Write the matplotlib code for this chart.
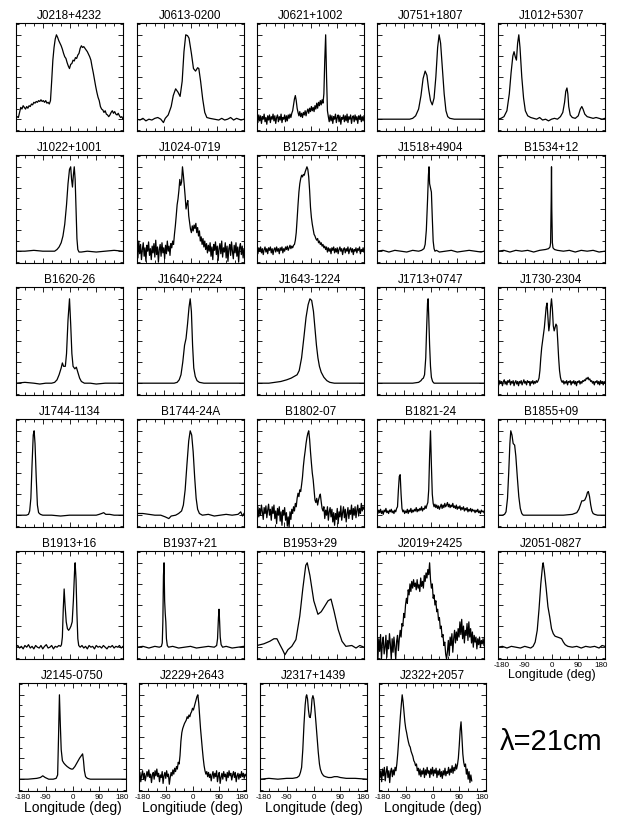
import numpy as np
import matplotlib
matplotlib.use("Agg")
import matplotlib.pyplot as plt
import matplotlib.transforms as mtransforms
from matplotlib.ticker import MultipleLocator

plt.rcParams['font.family'] = ['Liberation Sans', 'DejaVu Sans']
plt.rcParams['axes.unicode_minus'] = False

# ---------------- data (normalised intensity vs. longitude in deg) ----------------
# Panels given as explicit (longitude, intensity) pairs
J0613_lon = [-180,-170,-160,-150,-140,-130,-120,-110,-100,-91,-85,-75,-65,-58,-50,-42,-35,-28,-22,-16,-10,-5,3,10,17,24,28,34,41,48,55,65,80,95,105,115,125,135,145,155,170,180]
J0613_val = [0.0,-0.01,0.01,-0.02,0.0,-0.01,0.01,0.02,0.0,-0.04,0.01,0.05,0.15,0.28,0.36,0.32,0.27,0.45,0.8,1.0,0.99,0.96,0.78,0.6,0.57,0.61,0.6,0.45,0.24,0.08,0.02,0.01,0.0,-0.01,0.01,-0.01,0.0,0.02,-0.01,0.01,-0.01,0.0]

J0751_lon = [-180,-150,-120,-90,-70,-60,-50,-40,-32,-25,-18,-12,-6,0,6,12,18,24,29,34,40,46,52,58,65,80,110,140,180]
J0751_val = [0.0,0.0,0.0,0.0,0.0,0.01,0.04,0.12,0.28,0.48,0.57,0.52,0.35,0.22,0.17,0.25,0.5,0.85,1.0,0.9,0.6,0.3,0.1,0.03,0.01,0.0,0.0,0.0,0.0]

J1012_lon = [-180,-170,-160,-150,-142,-136,-130,-126,-122,-118,-114,-110,-106,-100,-94,-88,-80,-70,-60,-50,-40,-30,-20,-10,0,10,20,30,38,44,48,52,55,58,63,70,80,90,97,102,106,112,120,130,140,150,160,170,180]
J1012_val = [0.0,0.01,0.03,0.1,0.3,0.55,0.75,0.8,0.74,0.7,0.9,1.0,0.85,0.5,0.25,0.1,0.04,0.02,0.01,0.0,0.02,-0.01,0.0,-0.02,0.0,0.01,0.0,0.03,0.08,0.2,0.33,0.37,0.3,0.15,0.05,0.02,0.01,0.04,0.12,0.15,0.12,0.06,0.03,0.02,0.01,0.02,0.01,0.0,0.01]

J1022_lon = [-180,-150,-120,-90,-60,-50,-42,-35,-28,-22,-16,-10,-5,0,4,7,10,13,16,19,22,25,28,32,40,60,90,120,150,180]
J1022_val = [0.0,0.0,0.01,0.0,0.0,0.0,0.02,0.05,0.1,0.18,0.32,0.55,0.8,0.97,1.0,0.85,0.76,0.9,1.0,0.85,0.5,0.15,0.02,-0.01,-0.01,0.0,-0.01,0.0,0.01,0.0]

J1518_lon = [-180,-160,-140,-120,-100,-80,-60,-40,-30,-22,-18,-14,-10,-7,-5,-3,0,3,6,9,12,15,20,30,50,70,90,110,130,150,170,180]
J1518_val = [0.0,0.01,-0.01,0.01,0.0,-0.01,0.01,0.0,0.01,0.03,0.08,0.25,0.6,0.9,1.0,0.8,0.75,0.7,0.4,0.12,0.03,0.0,0.01,-0.01,0.0,0.01,-0.01,0.0,0.01,0.0,-0.01,0.0]

B1534_lon = [-180,-160,-140,-120,-100,-80,-60,-40,-20,-10,-5,-3,-1,0,1,3,5,10,20,40,60,80,100,120,140,160,180]
B1534_val = [0.0,0.01,-0.01,0.01,0.0,0.01,-0.01,0.01,0.02,0.03,0.05,0.1,0.6,1.0,0.5,0.1,0.04,0.02,0.01,0.0,0.01,-0.01,0.01,0.0,0.01,-0.01,0.0]

B1620_lon = [-180,-150,-120,-100,-80,-60,-50,-42,-35,-28,-24,-20,-14,-10,-5,0,4,8,12,18,23,28,34,40,50,70,90,120,150,180]
B1620_val = [0.0,0.01,0.0,-0.01,0.0,0.0,0.01,0.04,0.1,0.18,0.24,0.2,0.2,0.35,0.75,1.0,0.7,0.35,0.2,0.17,0.19,0.13,0.06,0.02,0.0,0.0,-0.01,0.0,0.0,0.0]

J1640_lon = [-180,-120,-80,-55,-45,-38,-32,-26,-20,-15,-10,-5,-1,3,7,11,16,22,30,45,80,120,180]
J1640_val = [0.0,0.0,0.0,0.0,0.01,0.04,0.1,0.25,0.45,0.53,0.7,0.9,1.0,0.85,0.45,0.18,0.08,0.03,0.01,0.0,0.0,0.0,0.0]

J1643_lon = [-180,-140,-120,-100,-80,-65,-55,-45,-38,-30,-22,-15,-8,-2,4,10,15,20,25,30,36,45,55,65,80,120,180]
J1643_val = [0.0,0.0,0.01,0.02,0.04,0.06,0.08,0.1,0.15,0.3,0.55,0.78,0.93,1.0,0.98,0.85,0.65,0.45,0.3,0.2,0.13,0.07,0.03,0.01,0.0,0.0,0.0]

J1713_lon = [-180,-120,-60,-40,-32,-28,-24,-20,-16,-13,-10,-8,-6,-3,0,3,7,12,20,50,100,180]
J1713_val = [0.0,0.0,0.0,0.01,0.03,0.05,0.06,0.1,0.3,0.65,0.95,1.0,0.8,0.45,0.2,0.07,0.02,0.0,0.0,0.0,0.0,0.0]

J1744_lon = [-180,-160,-145,-138,-134,-130,-126,-122,-119,-116,-112,-108,-104,-98,-90,-60,-30,0,30,60,90,100,108,115,122,135,150,180]
J1744_val = [0.0,0.0,0.0,0.01,0.05,0.2,0.6,0.95,1.0,0.85,0.45,0.12,0.03,0.01,0.0,0.0,-0.01,0.0,0.0,0.0,0.0,0.01,0.02,0.03,0.01,0.01,0.0,0.0]

B1744_lon = [-180,-160,-140,-120,-100,-85,-73,-65,-50,-40,-30,-24,-18,-12,-6,-1,4,9,14,19,24,30,40,60,80,100,120,140,160,169,175,180]
B1744_val = [0.02,0.02,0.01,0.0,0.0,-0.02,-0.04,-0.01,0.0,0.02,0.05,0.12,0.3,0.6,0.88,1.0,0.95,0.75,0.45,0.2,0.07,0.02,0.0,0.01,-0.01,0.0,0.01,0.0,0.01,0.04,-0.01,0.02]

B1855_lon = [-180,-165,-158,-153,-148,-144,-140,-137,-133,-129,-124,-120,-115,-110,-105,-100,-95,-80,-40,0,40,70,85,92,97,102,107,112,117,121,124,128,132,136,140,145,155,170,180]
B1855_val = [0.0,0.0,0.01,0.04,0.2,0.5,0.85,1.0,0.95,0.85,0.83,0.7,0.45,0.22,0.08,0.02,0.0,0.0,0.0,0.0,0.0,0.01,0.03,0.07,0.12,0.17,0.17,0.18,0.22,0.27,0.28,0.22,0.12,0.05,0.02,0.01,0.0,0.0,0.0]

B1913_lon = [-180,-174,-168,-162,-156,-150,-144,-138,-132,-126,-120,-114,-108,-102,-96,-90,-84,-78,-72,-66,-60,-54,-48,-42,-36,-30,-27,-24,-21,-18,-15,-11,-7,-3,1,5,9,13,17,19,22,25,28,31,36,42,48,54,60,66,72,78,84,90,96,102,108,114,120,126,132,138,144,150,156,162,168,174,180]
B1913_val = [0.0,0.02,-0.01,0.01,-0.02,0.02,0.0,0.03,-0.01,0.01,-0.02,0.02,0.0,-0.01,0.02,-0.02,0.01,0.03,-0.01,0.0,0.02,-0.02,0.01,0.0,0.02,0.01,0.03,0.12,0.45,0.69,0.5,0.3,0.22,0.2,0.22,0.25,0.3,0.55,0.9,1.0,0.8,0.4,0.1,0.02,0.0,0.02,-0.01,0.01,-0.02,0.02,0.0,0.01,-0.02,0.02,0.0,0.01,-0.01,0.02,0.0,-0.02,0.01,0.0,0.02,-0.01,0.01,0.0,0.02,-0.01,0.01]

B1937_lon = [-180,-160,-140,-120,-105,-98,-95,-93,-91,-89,-87,-85,-83,-81,-78,-74,-60,-40,-20,0,20,40,60,80,88,91,94,96,98,100,103,108,120,140,160,180]
B1937_val = [0.0,0.01,-0.01,0.01,0.0,0.01,0.05,0.3,0.85,1.0,0.55,0.4,0.3,0.1,0.02,0.0,0.01,-0.01,0.0,0.01,-0.01,0.0,0.01,0.0,0.02,0.1,0.35,0.45,0.3,0.12,0.03,0.0,0.01,-0.01,0.0,0.01]

B1953_lon = [-180,-157,-137,-123,-113,-103,-94,-86,-76,-63,-49,-36,-26,-16,-11,-2,11,25,36,45,59,69,79,93,106,119,139,153,166,180]
B1953_val = [0.02,0.04,0.07,0.1,0.1,0.03,-0.03,-0.09,-0.03,0.01,0.09,0.37,0.69,0.97,1.0,0.85,0.55,0.39,0.42,0.47,0.55,0.57,0.43,0.21,0.07,0.01,0.02,-0.01,0.02,0.0]

J2051_lon = [-180,-165,-150,-135,-120,-105,-90,-80,-70,-62,-55,-48,-42,-36,-30,-28,-24,-18,-12,-6,0,6,12,20,28,34,40,46,55,70,85,100,115,130,145,160,170,180]
J2051_val = [0.0,0.01,-0.01,0.01,0.0,-0.01,0.01,0.0,-0.01,0.01,0.06,0.2,0.45,0.75,0.97,1.0,0.9,0.7,0.48,0.36,0.22,0.16,0.13,0.12,0.11,0.1,0.06,0.03,0.01,0.0,0.01,-0.01,0.01,0.0,0.01,-0.01,0.02,0.01]

J2145_lon = [-180,-150,-120,-108,-100,-92,-80,-65,-55,-50,-47,-44,-41,-38,-34,-29,-24,-18,-10,-4,1,8,16,24,30,34,37,40,44,50,60,90,120,150,180]
J2145_val = [0.0,0.0,0.01,0.02,0.04,0.02,0.0,0.0,0.01,0.05,0.5,1.0,0.65,0.35,0.22,0.19,0.17,0.15,0.13,0.12,0.12,0.15,0.2,0.25,0.28,0.3,0.22,0.1,0.03,0.01,0.0,0.0,0.0,0.0,0.0]

J2317_lon = [-180,-150,-120,-90,-70,-55,-48,-44,-40,-36,-32,-28,-25,-23,-20,-17,-14,-11,-8,-5,-2,1,4,8,12,16,20,23,28,34,40,50,60,70,80,90,110,140,180]
J2317_val = [0.0,0.01,0.0,0.01,0.01,0.02,0.04,0.08,0.14,0.35,0.65,0.88,0.98,1.0,0.95,0.82,0.74,0.73,0.8,0.95,0.99,0.95,0.85,0.68,0.5,0.32,0.18,0.12,0.07,0.04,0.03,0.02,0.02,0.03,0.03,0.02,0.01,0.01,0.0]

# Panels given as evenly spaced bins (values read bin by bin)
J0218_val = [0.01,0.03,0.02,0.08,0.14,0.12,0.16,0.14,0.12,0.15,0.13,0.16,0.15,0.18,0.17,0.2,0.19,0.21,0.2,0.22,0.21,0.23,0.21,0.22,0.2,0.22,0.19,0.2,0.18,0.22,0.45,0.7,0.85,0.95,1.0,0.97,0.93,0.9,0.87,0.83,0.78,0.74,0.72,0.67,0.63,0.6,0.65,0.66,0.7,0.69,0.73,0.72,0.76,0.78,0.84,0.87,0.85,0.86,0.84,0.82,0.8,0.77,0.74,0.7,0.62,0.55,0.47,0.39,0.32,0.26,0.22,0.15,0.12,0.11,0.08,0.1,0.06,0.05,0.03,0.05,0.08,0.1,0.07,0.09,0.06,0.05,0.07,0.04,0.02,0.03,0.0]

J0621_val = [0.02,-0.04,0.05,-0.02,0.04,-0.05,0.03,0.0,0.06,-0.03,0.02,-0.06,0.04,-0.01,0.05,-0.04,0.03,0.0,0.06,-0.02,0.04,-0.05,0.02,0.05,-0.03,0.03,-0.01,0.06,-0.04,0.02,0.0,0.05,-0.03,0.04,-0.02,0.05,0.01,0.06,0.02,0.07,0.1,0.17,0.24,0.28,0.22,0.13,0.08,0.04,0.09,0.03,0.07,0.02,0.08,0.05,0.1,0.04,0.09,0.12,0.07,0.13,0.09,0.15,0.1,0.14,0.09,0.16,0.12,0.19,0.13,0.2,0.16,0.22,0.17,0.23,0.19,0.3,0.7,1.0,0.5,0.1,0.03,-0.03,0.05,-0.02,0.04,-0.05,0.03,0.0,0.06,-0.04,0.02,0.05,-0.03,0.04,-0.06,0.02,0.0,0.05,-0.03,0.04,-0.02,0.06,-0.04,0.03,0.0,0.05,-0.05,0.02,0.04,-0.03,0.05,-0.01,0.03,-0.05,0.04,0.0,0.05,-0.03,0.03,-0.02,0.04]

J1024_val = [0.05,-0.08,0.12,-0.03,0.08,-0.1,0.02,0.1,-0.06,0.04,-0.12,0.07,0.0,0.11,-0.05,0.03,-0.1,0.06,-0.02,0.09,-0.07,0.13,-0.04,0.05,-0.13,0.02,0.08,-0.06,0.1,-0.02,0.04,-0.09,0.07,-0.03,0.12,0.0,0.06,-0.05,0.09,0.04,0.12,0.08,0.2,0.3,0.42,0.55,0.62,0.72,0.85,0.78,0.82,1.0,0.9,0.78,0.65,0.5,0.56,0.6,0.42,0.34,0.26,0.22,0.3,0.24,0.31,0.27,0.33,0.22,0.28,0.18,0.24,0.12,0.17,0.08,0.15,0.05,0.12,0.02,0.09,-0.02,0.07,0.0,0.1,-0.06,0.05,-0.1,0.08,0.01,0.11,-0.04,0.06,-0.11,0.03,0.09,-0.03,0.12,-0.07,0.04,-0.01,0.1,-0.08,0.06,-0.12,0.03,0.08,-0.05,0.11,0.0,-0.09,0.07,-0.02,0.1,-0.06,0.05,-0.13,0.04,0.09,-0.04,0.06,-0.08,0.03]

B1257_val = [0.02,-0.03,0.04,0.0,0.05,-0.02,0.03,-0.04,0.02,0.05,-0.01,0.03,-0.03,0.04,0.01,0.05,-0.02,0.03,-0.04,0.02,0.04,-0.01,0.05,0.0,0.03,-0.03,0.04,0.01,0.05,-0.02,0.03,0.0,0.05,0.02,0.06,0.01,0.04,0.07,0.03,0.06,0.04,0.07,0.08,0.13,0.22,0.38,0.55,0.7,0.8,0.86,0.9,0.88,0.91,0.9,0.94,0.97,1.0,0.97,0.88,0.72,0.52,0.4,0.32,0.26,0.2,0.18,0.15,0.13,0.15,0.1,0.12,0.08,0.1,0.06,0.08,0.04,0.06,0.02,0.05,-0.01,0.04,0.0,0.03,-0.03,0.04,0.01,0.05,-0.02,0.03,-0.01,0.04,-0.03,0.02,0.05,0.0,0.03,-0.04,0.02,0.04,-0.02,0.03,0.0,0.05,-0.03,0.02,0.04,-0.01,0.03,-0.04,0.02,0.0,0.04,-0.02,0.03,0.01,0.05,-0.03,0.02,0.0,0.04,-0.01]

J1730_val = [0.01,-0.02,0.03,0.0,0.02,-0.03,0.02,0.04,-0.01,0.02,-0.02,0.03,0.01,0.04,-0.02,0.02,0.0,0.03,-0.03,0.01,0.03,-0.01,0.02,-0.03,0.02,0.0,0.03,-0.02,0.01,0.04,0.0,0.02,-0.02,0.03,0.01,0.02,-0.03,0.02,0.0,0.03,-0.01,0.02,0.0,0.03,0.01,0.03,0.06,0.15,0.3,0.42,0.5,0.58,0.66,0.78,0.9,0.95,0.78,0.62,0.7,0.9,1.0,0.88,0.68,0.62,0.66,0.7,0.68,0.5,0.3,0.15,0.07,0.03,0.01,0.03,-0.01,0.02,0.0,0.03,-0.02,0.02,0.01,0.03,-0.02,0.02,0.0,0.03,-0.01,0.02,-0.03,0.02,0.01,0.03,-0.01,0.02,0.0,0.03,0.02,0.04,0.03,0.06,0.05,0.07,0.04,0.05,0.02,0.03,0.0,0.02,-0.02,0.02,0.01,0.03,-0.01,0.02,-0.02,0.03,0.0,0.02,-0.02,0.02,0.0]

B1802_val = [0.03,0.1,-0.02,0.08,0.0,0.12,0.04,-0.05,0.09,0.02,0.11,-0.03,0.06,0.13,0.0,0.07,-0.06,0.1,0.02,0.12,-0.04,0.05,-0.1,0.08,0.0,0.1,-0.07,0.04,-0.12,0.06,0.0,0.09,-0.06,0.03,-0.13,-0.02,-0.14,0.04,-0.05,0.07,0.02,0.1,0.05,0.14,0.1,0.2,0.26,0.22,0.3,0.28,0.36,0.45,0.58,0.68,0.76,0.85,0.92,0.97,1.0,0.9,0.75,0.62,0.5,0.42,0.3,0.18,0.15,0.2,0.12,0.18,0.22,0.25,0.16,0.08,0.05,0.1,-0.04,0.06,0.0,0.1,-0.06,0.04,0.09,-0.02,0.07,-0.08,0.03,-0.12,0.02,-0.05,0.08,-0.1,0.04,-0.02,0.11,-0.06,0.03,0.1,-0.03,0.07,-0.08,0.02,0.09,-0.04,0.06,0.01,0.12,-0.05,0.08,0.0,0.1,-0.03,0.06,0.12,-0.01,0.08,0.02,0.14,0.05,0.1,0.07]

B1821_val = [0.05,0.02,0.06,0.03,0.07,0.02,0.05,0.01,0.06,0.04,0.08,0.03,0.05,0.02,0.06,0.04,0.07,0.03,0.05,0.02,0.06,0.04,0.08,0.1,0.3,0.46,0.48,0.25,0.08,0.04,0.06,0.02,0.05,0.03,0.07,0.02,0.06,0.04,0.08,0.03,0.06,0.04,0.07,0.05,0.09,0.04,0.07,0.05,0.08,0.06,0.1,0.05,0.08,0.07,0.11,0.08,0.12,0.15,0.3,0.7,1.0,0.6,0.25,0.14,0.1,0.13,0.09,0.12,0.08,0.11,0.07,0.1,0.13,0.08,0.12,0.09,0.14,0.1,0.12,0.15,0.1,0.13,0.09,0.12,0.1,0.14,0.09,0.11,0.08,0.12,0.07,0.1,0.08,0.11,0.06,0.09,0.07,0.1,0.05,0.08,0.06,0.09,0.04,0.07,0.05,0.08,0.04,0.07,0.05,0.06,0.03,0.06,0.04,0.07,0.03,0.05,0.02,0.06,0.04,0.05,0.03]

J2019_val = [0.02,-0.14,0.1,-0.05,0.15,-0.14,0.05,0.12,-0.08,0.0,0.14,-0.12,0.08,-0.02,0.16,0.03,-0.14,0.1,-0.06,0.12,0.0,-0.14,0.07,0.14,-0.04,0.1,0.2,0.12,0.28,0.25,0.4,0.35,0.5,0.58,0.52,0.68,0.62,0.75,0.66,0.78,0.7,0.8,0.72,0.76,0.68,0.8,0.7,0.74,0.66,0.82,0.72,0.78,0.7,0.85,0.78,0.88,0.82,0.92,0.86,1.0,0.8,0.7,0.75,0.58,0.62,0.5,0.55,0.42,0.45,0.32,0.35,0.22,0.25,0.12,0.15,0.02,0.06,-0.08,-0.14,-0.05,0.08,-0.1,0.12,0.02,0.16,-0.06,0.1,0.2,0.05,0.18,0.08,0.22,0.12,0.3,0.15,0.33,0.1,0.25,0.05,0.2,0.14,0.28,0.08,0.3,0.12,0.22,0.05,0.18,0.0,0.14,0.06,0.12,-0.02,0.1,0.03,0.12,0.0,0.08,0.04,0.1,0.02]

J2229_val = [0.02,0.08,-0.03,0.05,0.1,0.0,0.07,-0.02,0.04,0.09,0.03,0.11,0.02,0.06,-0.04,0.05,0.08,0.0,0.1,0.04,0.12,0.03,0.07,-0.03,0.05,0.02,0.09,-0.05,0.04,0.08,0.01,0.1,0.03,0.06,-0.06,0.02,0.08,0.04,0.11,0.06,0.13,0.09,0.15,0.12,0.2,0.18,0.28,0.45,0.55,0.6,0.63,0.66,0.68,0.7,0.74,0.72,0.76,0.74,0.78,0.8,0.84,0.82,0.86,0.9,0.94,0.98,1.0,0.9,0.75,0.6,0.48,0.36,0.25,0.16,0.1,0.06,0.09,0.03,0.08,0.02,0.06,-0.02,0.05,0.09,0.01,0.07,0.03,0.1,-0.03,0.04,0.08,-0.05,0.02,0.07,0.0,0.09,0.03,0.06,-0.02,0.08,0.02,0.1,0.04,0.07,-0.01,0.05,0.09,0.02,0.08,-0.03,0.04,0.07,0.0,0.06,0.02,0.09,0.03,0.07,0.01,0.06,0.04]

J2322_val = [0.02,0.1,-0.03,0.12,0.04,0.14,-0.02,0.08,0.15,0.02,0.1,-0.04,0.09,0.13,0.03,0.11,0.05,0.14,0.1,0.18,0.3,0.45,0.6,0.75,0.88,1.0,0.92,0.8,0.68,0.6,0.55,0.49,0.44,0.4,0.38,0.33,0.3,0.27,0.22,0.2,0.16,0.18,0.1,0.13,0.05,0.12,0.03,0.1,0.06,0.13,0.02,0.11,0.05,0.14,0.07,0.1,0.02,0.12,0.06,0.14,0.04,0.11,0.07,0.13,0.02,0.1,0.05,0.12,0.03,0.09,0.01,0.1,0.05,0.13,0.04,0.09,0.07,0.14,0.05,0.12,0.08,0.16,0.07,0.14,0.1,0.18,0.12,0.17,0.25,0.4,0.58,0.68,0.5,0.3,0.2,0.15,0.18,0.06,0.12,0.0,0.09,-0.04,0.05,-0.02]
J2322_range = (-177, 132)   # data stops short of the right edge

FULL = (-180, 180)

names = ["J0218+4232", "J0613-0200", "J0621+1002", "J0751+1807", "J1012+5307",
         "J1022+1001", "J1024-0719", "B1257+12", "J1518+4904", "B1534+12",
         "B1620-26", "J1640+2224", "J1643-1224", "J1713+0747", "J1730-2304",
         "J1744-1134", "B1744-24A", "B1802-07", "B1821-24", "B1855+09",
         "B1913+16", "B1937+21", "B1953+29", "J2019+2425", "J2051-0827",
         "J2145-0750", "J2229+2643", "J2317+1439", "J2322+2057"]

def binned(vals, rng=FULL):
    return np.linspace(rng[0], rng[1], len(vals)), np.asarray(vals)

profiles = {
    "J0218+4232": binned(J0218_val),
    "J0613-0200": (J0613_lon, J0613_val),
    "J0621+1002": binned(J0621_val),
    "J0751+1807": (J0751_lon, J0751_val),
    "J1012+5307": (J1012_lon, J1012_val),
    "J1022+1001": (J1022_lon, J1022_val),
    "J1024-0719": binned(J1024_val),
    "B1257+12": binned(B1257_val),
    "J1518+4904": (J1518_lon, J1518_val),
    "B1534+12": (B1534_lon, B1534_val),
    "B1620-26": (B1620_lon, B1620_val),
    "J1640+2224": (J1640_lon, J1640_val),
    "J1643-1224": (J1643_lon, J1643_val),
    "J1713+0747": (J1713_lon, J1713_val),
    "J1730-2304": binned(J1730_val),
    "J1744-1134": (J1744_lon, J1744_val),
    "B1744-24A": (B1744_lon, B1744_val),
    "B1802-07": binned(B1802_val),
    "B1821-24": binned(B1821_val),
    "B1855+09": (B1855_lon, B1855_val),
    "B1913+16": (B1913_lon, B1913_val),
    "B1937+21": (B1937_lon, B1937_val),
    "B1953+29": (B1953_lon, B1953_val),
    "J2019+2425": binned(J2019_val),
    "J2051-0827": (J2051_lon, J2051_val),
    "J2145-0750": (J2145_lon, J2145_val),
    "J2229+2643": binned(J2229_val),
    "J2317+1439": (J2317_lon, J2317_val),
    "J2322+2057": binned(J2322_val, J2322_range),
}

xtick_labels = [-180, -90, 0, 90, 180]
xlabels = {"J2051-0827": "Longitude (deg)", "J2145-0750": "Longitude (deg)",
           "J2229+2643": "Longitiude (deg)", "J2317+1439": "Longitude (deg)",
           "J2322+2057": "Longitude (deg)"}

# ---------------- layout ----------------
W, H = 617, 818
fig = plt.figure(figsize=(W / 100, H / 100), dpi=100)
fig.patch.set_facecolor("white")

col_left = [16, 137, 257, 377, 498]
last_row_left = [19, 139, 260, 379]
row_top = [23, 155, 287, 419, 551, 683]
bw, bh = 107, 108

for k, name in enumerate(names):
    r, c = divmod(k, 5)
    x0 = last_row_left[c] if r == 5 else col_left[c]
    y0 = row_top[r]
    ax = fig.add_axes([x0 / W, 1 - (y0 + bh) / H, bw / W, bh / H])
    lon, val = profiles[name]
    n = min(len(lon), len(val))
    ax.plot(np.asarray(lon)[:n], np.asarray(val)[:n], color="black", lw=0.9)
    ax.set_xlim(-180, 180)
    ax.set_ylim(-0.14, 1.14)
    ax.xaxis.set_major_locator(MultipleLocator(90))
    ax.xaxis.set_minor_locator(MultipleLocator(30))
    ax.yaxis.set_major_locator(MultipleLocator(0.25))
    ax.yaxis.set_minor_locator(MultipleLocator(0.125))
    ax.tick_params(which="both", direction="in", top=True, right=True,
                   width=0.6, colors="black")
    ax.tick_params(which="major", length=3.5)
    ax.tick_params(which="minor", length=2.5)
    ax.set_yticklabels([])
    for s in ax.spines.values():
        s.set_linewidth(0.8)
    ax.set_title(name, fontsize=8.5, pad=3)
    if name in xlabels:
        small = name == "J2051-0827"
        ax.set_xticks(xtick_labels)
        ax.set_xticklabels([str(v) for v in xtick_labels], fontsize=5.8)
        ax.tick_params(axis="x", which="major", pad=2)
        labs = ax.get_xticklabels()
        labs[0].set_transform(labs[0].get_transform() +
                              mtransforms.ScaledTranslation(4 / 100, 0, fig.dpi_scale_trans))
        labs[-1].set_transform(labs[-1].get_transform() +
                               mtransforms.ScaledTranslation(-4 / 100, 0, fig.dpi_scale_trans))
        ax.set_xlabel(xlabels[name], fontsize=9 if small else 10, labelpad=0)
    else:
        ax.set_xticklabels([])

fig.text(551 / W, 1 - 742 / H, "λ=21cm", fontsize=21, ha="center", va="center")

fig.savefig("out.png", dpi=100, facecolor="white")
